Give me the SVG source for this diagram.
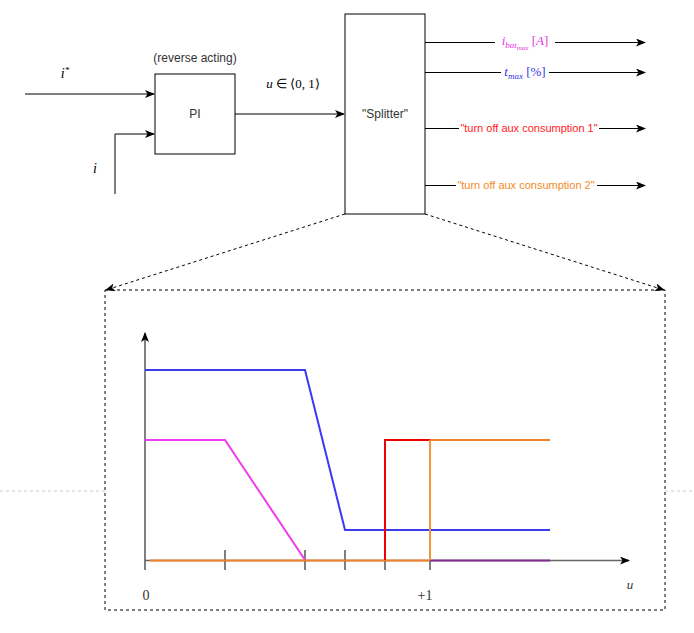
<svg xmlns="http://www.w3.org/2000/svg" width="694" height="633" viewBox="0 0 694 633">
<defs>
<style>
.box{fill:#fff;stroke:#000;stroke-width:1}
.lbl{font-family:"Liberation Sans",Arial,sans-serif;font-size:12px;fill:#333;text-anchor:middle}
.out{font-family:"Liberation Sans",Arial,sans-serif;font-size:11px;text-anchor:middle}
.math{font-family:"Liberation Serif","Times New Roman",serif;font-style:italic;text-anchor:middle}
.num{font-family:"Liberation Serif","Times New Roman",serif;font-size:14px;fill:#333;text-anchor:middle}
.wire{fill:none;stroke:#000;stroke-width:1}
.dash{fill:none;stroke:#000;stroke-width:1;stroke-dasharray:3 3}
.crv{fill:none;stroke-width:2}
</style>
<marker id="arr" markerWidth="10" markerHeight="8" refX="9" refY="4" orient="auto" markerUnits="userSpaceOnUse">
<path d="M0,0 L10,4 L0,8 L2.5,4 Z" fill="#000"/>
</marker>
</defs>
<rect width="694" height="633" fill="#fff"/>
<line x1="0" y1="491" x2="105" y2="491" stroke="#ccc" stroke-dasharray="3 3"/>
<line x1="665" y1="491" x2="694" y2="491" stroke="#ccc" stroke-dasharray="3 3"/>

<g id="connectors">
<path class="wire" d="M25,94 H154" marker-end="url(#arr)"/>
<path class="wire" d="M115,194 V134 H154" marker-end="url(#arr)"/>
<path class="wire" d="M235,114 H344" marker-end="url(#arr)"/>
<path class="wire" d="M425,42.5 H645" marker-end="url(#arr)"/>
<path class="wire" d="M425,72.5 H645" marker-end="url(#arr)"/>
<path class="wire" d="M425,128.5 H645" marker-end="url(#arr)"/>
<path class="wire" d="M425,185.5 H645" marker-end="url(#arr)"/>
<path class="dash" d="M345,214 L106,290" marker-end="url(#arr)"/>
<path class="dash" d="M425,214 L664,290" marker-end="url(#arr)"/>
</g>

<g id="labels">
<text class="math" x="65" y="78" font-size="14">i<tspan font-size="9" dy="-5">*</tspan></text>
<text class="math" x="95" y="173" font-size="14">i</text>
<text class="math" x="293" y="88" font-size="13">u <tspan font-style="normal">∈ ⟨0, 1⟩</tspan></text>
<rect x="495" y="33" width="60" height="17" fill="#fff"/>
<text class="math" x="525" y="45" font-size="13" fill="#E633E6">i<tspan font-size="9" dy="3">bat</tspan><tspan font-size="7" dy="2">max</tspan><tspan dy="-5" font-style="normal"> [</tspan>A<tspan font-style="normal">]</tspan></text>
<rect x="501" y="63" width="48" height="17" fill="#fff"/>
<text class="math" x="525" y="76" font-size="13" fill="#3333E6">t<tspan font-size="9" dy="3">max</tspan><tspan dy="-3" font-style="normal"> [%]</tspan></text>
<rect x="459" y="120" width="140" height="16" fill="#fff"/>
<text class="out" x="529" y="132" fill="#FF1A1A">"turn off aux consumption 1"</text>
<rect x="456" y="177" width="141" height="16" fill="#fff"/>
<text class="out" x="526" y="189" fill="#F08C28">"turn off aux consumption 2"</text>
</g>

<g id="pi">
<rect class="box" x="155" y="74" width="80" height="80"/>
<text class="lbl" x="195" y="118">PI</text>
<text class="lbl" x="195" y="62">(reverse acting)</text>
</g>

<g id="splitter">
<rect class="box" x="345" y="14" width="80" height="200"/>
<text class="lbl" x="385" y="118">"Splitter"</text>
</g>

<g id="zoom-box">
<rect x="105" y="290" width="560" height="320" fill="none" stroke="#000" stroke-dasharray="3 3"/>
</g>

<g id="chart">
<path class="wire" d="M145,570 V333" marker-end="url(#arr)"/>
<path d="M145,560.5 H629" fill="none" stroke="#666" stroke-width="1.5" marker-end="url(#arr)"/>
<g stroke="#000" stroke-width="1">
<line x1="225" y1="550" x2="225" y2="570"/>
<line x1="305" y1="550" x2="305" y2="570"/>
<line x1="345" y1="550" x2="345" y2="570"/>
<line x1="385" y1="550" x2="385" y2="570"/>
<line x1="430" y1="550" x2="430" y2="570"/>
</g>
<path class="crv" stroke="#3B3BF0" d="M145,370 H305 L345,530 H550"/>
<path class="crv" stroke="#F03BF0" d="M145,440 H225 L305,560"/>
<path class="crv" stroke="#7E2F8E" d="M430,560.5 H550"/>
<path class="crv" stroke="#F07F28" d="M150,560.5 H430"/>
<path class="crv" stroke="#F00000" d="M385,560 V440 H430"/>
<path class="crv" stroke="#F0963C" d="M430,560 V440"/>
<path class="crv" stroke="#F08030" d="M430,440 H550"/>
<text class="num" x="146" y="600">0</text>
<text class="num" x="425" y="600">+1</text>
<text class="math" x="630" y="589" font-size="13" fill="#333">u</text>
</g>
</svg>
